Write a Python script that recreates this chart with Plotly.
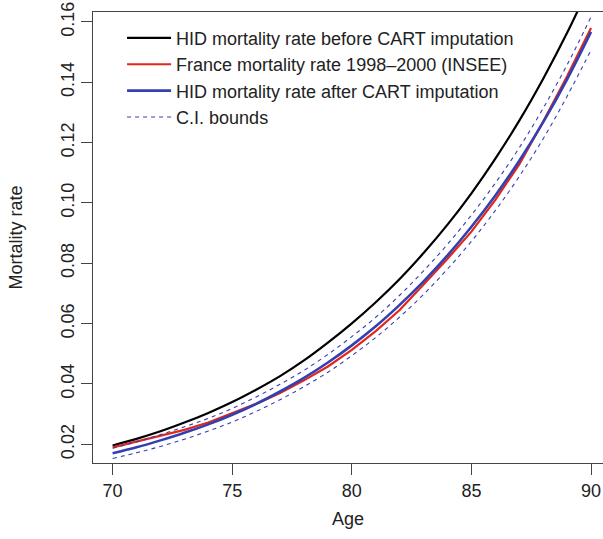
import plotly.graph_objects as go

ages = list(range(70, 91))

hid_before = [0.0196, 0.0218, 0.0243, 0.0272, 0.0304, 0.0340, 0.0381, 0.0426, 0.0478, 0.0537,
              0.0601, 0.0671, 0.0748, 0.0834, 0.0928, 0.1032, 0.1147, 0.1273, 0.1412, 0.1564, 0.1731]
france_insee = [0.0190, 0.0209, 0.0228, 0.0248, 0.0272, 0.0302, 0.0334, 0.0370, 0.0412, 0.0458,
                0.0513, 0.0575, 0.0645, 0.0730, 0.0815, 0.0905, 0.1010, 0.1128, 0.1270, 0.1420, 0.1580]
hid_after = [0.0170, 0.0190, 0.0213, 0.0238, 0.0266, 0.0298, 0.0334, 0.0375, 0.0420, 0.0471,
             0.0528, 0.0591, 0.0662, 0.0740, 0.0826, 0.0921, 0.1025, 0.1140, 0.1268, 0.1410, 0.1567]
ci_upper = [0.0187, 0.0208, 0.0232, 0.0258, 0.0286, 0.0319, 0.0357, 0.0399, 0.0445, 0.0498,
            0.0557, 0.0621, 0.0694, 0.0775, 0.0863, 0.0960, 0.1066, 0.1183, 0.1314, 0.1458, 0.1617]
ci_lower = [0.0153, 0.0172, 0.0193, 0.0217, 0.0244, 0.0274, 0.0309, 0.0348, 0.0391, 0.0439,
            0.0494, 0.0554, 0.0622, 0.0697, 0.0781, 0.0873, 0.0975, 0.1088, 0.1213, 0.1354, 0.1507]

x_ticks = [70, 75, 80, 85, 90]
y_ticks = [0.02, 0.04, 0.06, 0.08, 0.10, 0.12, 0.14, 0.16]
y_tick_labels = ["0.02", "0.04", "0.06", "0.08", "0.10", "0.12", "0.14", "0.16"]

BLACK = "#000000"
RED = "#e3261c"
BLUE = "#3341b0"

fig = go.Figure()
fig.add_trace(go.Scatter(x=ages, y=hid_before, mode="lines", line=dict(color=BLACK, width=2.2, shape="spline"),
                         name="HID mortality rate before CART imputation"))
fig.add_trace(go.Scatter(x=ages, y=france_insee, mode="lines", line=dict(color=RED, width=2.2),
                         name="France mortality rate 1998\u20132000 (INSEE)"))
fig.add_trace(go.Scatter(x=ages, y=hid_after, mode="lines", line=dict(color=BLUE, width=2.6, shape="spline"),
                         name="HID mortality rate after CART imputation"))
fig.add_trace(go.Scatter(x=ages, y=ci_upper, mode="lines", line=dict(color=BLUE, width=1.1, dash="4px,4px", shape="spline"),
                         name="C.I. bounds"))
fig.add_trace(go.Scatter(x=ages, y=ci_lower, mode="lines", line=dict(color=BLUE, width=1.1, dash="4px,4px", shape="spline"),
                         name="C.I. bounds lower", showlegend=False))

FAM = "Liberation Sans, Arial, sans-serif"
axis_font = dict(family=FAM, size=18, color="#222")

fig.update_layout(
    width=603, height=539,
    margin=dict(l=93, r=0, t=12, b=76, autoexpand=False),
    paper_bgcolor="white", plot_bgcolor="white",
    font=axis_font,
    showlegend=True,
    legend=dict(x=0.057, y=0.983, xanchor="left", yanchor="top", bgcolor="rgba(0,0,0,0)",
                font=dict(family=FAM, size=18, color="#222"),
                tracegroupgap=0, itemwidth=44),
    xaxis=dict(range=[69.18, 90.5], tickvals=x_ticks, ticks="outside", ticklen=11, tickwidth=1,
               tickcolor="#444", showline=True, linecolor="#444", linewidth=1.2, mirror=True,
               showgrid=False, zeroline=False, tickfont=axis_font, automargin=False,
               title=dict(text="Age", font=axis_font, standoff=12)),
    yaxis=dict(range=[0.0138, 0.1633], tickvals=y_ticks, ticktext=y_tick_labels, tickangle=-90,
               ticks="outside", ticklen=11, tickwidth=1, tickcolor="#444",
               showline=True, linecolor="#444", linewidth=1.2, mirror=False,
               showgrid=False, zeroline=False, tickfont=axis_font, automargin=False,
               title=dict(text="Mortality rate", font=axis_font, standoff=30)),
)

fig.write_html("out.html", config={"displayModeBar": False},
               post_script="document.body.style.margin='0';document.body.style.padding='0';")
